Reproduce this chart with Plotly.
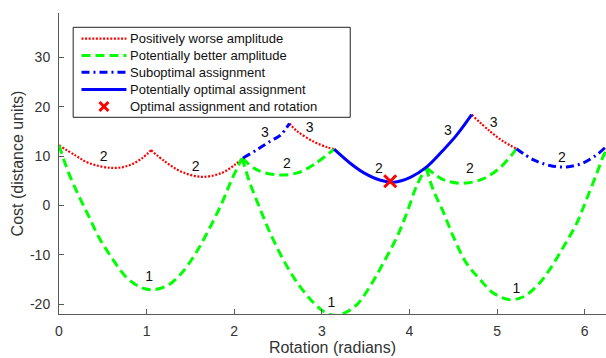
import plotly.graph_objects as go

# ---- data ----
# Positively worse amplitude (red dotted): three pieces, first one has two arcs
red_x = [0.00, 0.19, 0.34, 0.61, 0.80, 0.95, 1.05, None,
         1.05, 1.21, 1.40, 1.63, 1.86, 2.01, 2.10, None,
         2.63, 2.72, 2.91, 3.06, 3.14, None,
         4.71, 4.92, 5.07, 5.22]
red_y = [12.2, 10.1, 8.6, 7.6, 8.1, 9.6, 11.2, None,
         11.2, 8.9, 6.8, 5.8, 6.6, 8.3, 9.6, None,
         16.6, 15.0, 12.9, 11.8, 11.4, None,
         18.4, 15.0, 13.0, 11.5]

# Potentially better amplitude (green dashed)
green_x = [0.00, 0.11, 0.23, 0.34, 0.45, 0.59, 0.76, 0.91, 1.06, 1.25, 1.40, 1.56, 1.71, 1.86, 1.97, 2.09, None,
           2.09, 2.26, 2.49, 2.72, 2.91, 3.14, None,
           2.09, 2.18, 2.30, 2.41, 2.56, 2.72, 2.91, 3.03, 3.16, 3.28, 3.40, 3.55, 3.70, 3.86, 3.97, 4.08, 4.19, None,
           4.19, 4.39, 4.62, 4.84, 5.03, 5.17, 5.22, None,
           4.19, 4.27, 4.39, 4.50, 4.65, 4.81, 4.96, 5.15, 5.30, 5.45, 5.60, 5.76, 5.91, 6.02, 6.14, 6.21, 6.28]
green_y = [12.2, 6.6, 1.8, -2.2, -6.3, -10.3, -14.4, -16.4, -17.1, -16.1, -13.7, -9.7, -4.9, 0.5, 5.2, 9.6, None,
           9.6, 7.2, 6.2, 6.6, 8.3, 11.4, None,
           9.6, 4.5, -0.9, -5.6, -11.0, -15.7, -19.8, -21.6, -22.3, -21.6, -20.1, -16.4, -11.7, -6.3, -1.5, 3.9, 7.7, None,
           7.7, 5.2, 4.5, 5.4, 7.6, 10.3, 11.5, None,
           7.7, 3.2, -1.5, -6.3, -11.7, -15.1, -17.8, -19.1, -18.5, -16.4, -13.0, -8.3, -3.6, 1.2, 6.6, 9.9, 12.3]

# Suboptimal assignment (blue dash-dot)
subopt_x = [2.10, 2.26, 2.41, 2.53, 2.63, None,
            5.22, 5.41, 5.60, 5.79, 5.98, 6.14, 6.25, 6.28]
subopt_y = [9.6, 11.3, 13.0, 14.3, 16.6, None,
            11.5, 9.3, 8.1, 7.8, 8.6, 10.3, 12.0, 12.4]

# Potentially optimal assignment (blue solid)
opt_x = [3.14, 3.32, 3.48, 3.67, 3.82, 4.01, 4.19, 4.39, 4.54, 4.71]
opt_y = [11.4, 8.6, 6.6, 5.1, 4.7, 5.7, 7.7, 11.3, 14.3, 18.4]

# Optimal assignment and rotation (red x)
best_x = [3.78]
best_y = [4.9]

# curve labels
label_x = [0.51, 1.56, 1.03, 2.35, 2.86, 2.60, 3.65, 3.11, 4.44, 4.96, 4.69, 5.74, 5.22]
label_y = [9.7, 7.6, -14.7, 14.5, 15.6, 8.3, 7.2, -19.9, 15.0, 16.7, 7.2, 9.6, -17.0]
label_text = ["2", "2", "1", "3", "3", "2", "2", "1", "3", "3", "2", "2", "1"]

# ticks
x_tick_vals = [0, 1, 2, 3, 4, 5, 6]
y_tick_vals = [-20, -10, 0, 10, 20, 30]
y_tick_text = ["-20", "-10", "0", "10", "20", "30"]

legend_names = ["Positively worse amplitude", "Potentially better amplitude",
                "Suboptimal assignment", "Potentially optimal assignment",
                "Optimal assignment and rotation"]

FONT = "Liberation Sans, Arial, Helvetica, sans-serif"
W, H = 606, 358
ML, MR, MT, MB = 58.5, 0, 13, 44
PW, PH = W - ML - MR, H - MT - MB

RED = dict(color="#ff0000", width=2.2, dash="2px,1.6px")
GREEN = dict(color="#00ff00", width=3, dash="9px,5px")
BLUE_DD = dict(color="#0000ff", width=3, dash="8px,4px,2px,4px")
BLUE = dict(color="#0000ff", width=3)
styles = [RED, GREEN, BLUE_DD, BLUE]

fig = go.Figure()
fig.add_trace(go.Scatter(x=red_x, y=red_y, mode="lines", name=legend_names[0],
                         line=dict(**RED, shape="spline"), connectgaps=False))
fig.add_trace(go.Scatter(x=green_x, y=green_y, mode="lines", name=legend_names[1],
                         line=dict(**GREEN, shape="spline"), connectgaps=False))
fig.add_trace(go.Scatter(x=subopt_x, y=subopt_y, mode="lines", name=legend_names[2],
                         line=dict(**BLUE_DD, shape="spline"), connectgaps=False))
fig.add_trace(go.Scatter(x=opt_x, y=opt_y, mode="lines", name=legend_names[3],
                         line=dict(**BLUE, shape="spline")))
fig.add_trace(go.Scatter(x=best_x, y=best_y, mode="markers", name=legend_names[4],
                         marker=dict(symbol="x-thin", size=12, line=dict(color="#ff0000", width=3))))
fig.add_trace(go.Scatter(x=label_x, y=label_y, mode="text", text=label_text,
                         textfont=dict(family=FONT, size=14, color="#111111"), hoverinfo="skip"))

# ---- MATLAB-style legend box drawn in paper coordinates ----
def px(xp):
    return (xp - ML) / PW

def py(yp):
    return (H - MB - yp) / PH

shapes = [dict(type="rect", xref="paper", yref="paper", x0=px(72.7), x1=px(350), y0=py(117.3), y1=py(27.3),
               line=dict(color="#222222", width=1), fillcolor="white", layer="above")]
annotations = []
row_y = [38.7, 55.5, 72.3, 89.5, 106.5]
for i, name in enumerate(legend_names):
    if i < 4:
        shapes.append(dict(type="line", xref="paper", yref="paper", x0=px(81), x1=px(126),
                           y0=py(row_y[i]), y1=py(row_y[i]), line=styles[i], layer="above"))
    annotations.append(dict(xref="paper", yref="paper", x=px(128), y=py(row_y[i]), text=name,
                            showarrow=False, xanchor="left", yanchor="middle",
                            font=dict(family=FONT, size=13, color="#111111")))
# X marker sample for the legend (two crossing strokes)
cx, cy, r = 103.5, row_y[4], 4.5
for sgn in (1, -1):
    shapes.append(dict(type="line", xref="paper", yref="paper",
                       x0=px(cx - r), x1=px(cx + r), y0=py(cy - sgn * r), y1=py(cy + sgn * r),
                       line=dict(color="#ff0000", width=3), layer="above"))

axis_common = dict(showline=True, linecolor="#5a5a5a", linewidth=1, mirror=False, automargin=False,
                   ticks="inside", ticklen=5, tickcolor="#5a5a5a", showgrid=False, zeroline=False,
                   tickfont=dict(family=FONT, size=14, color="#333333"),
                   title_font=dict(family=FONT, size=16, color="#333333"))

fig.update_xaxes(range=[0, 6.243], tickmode="array", tickvals=x_tick_vals,
                 ticklabelstandoff=4,
                 title_text="Rotation (radians)", title_standoff=4, **axis_common)
fig.update_yaxes(range=[-22, 39], tickmode="array", tickvals=y_tick_vals, ticktext=y_tick_text,
                 ticklabelstandoff=5,
                 title_text="Cost (distance units)", title_standoff=2, **axis_common)

fig.update_layout(
    width=W, height=H,
    margin=dict(l=ML, r=MR, t=MT, b=MB),
    plot_bgcolor="white", paper_bgcolor="white",
    font=dict(family=FONT, color="#111111"),
    showlegend=False,
    shapes=shapes, annotations=annotations,
)

fig.write_html("out.html", config={"displayModeBar": False},
               post_script="document.body.style.margin='0';document.body.style.padding='0';")
